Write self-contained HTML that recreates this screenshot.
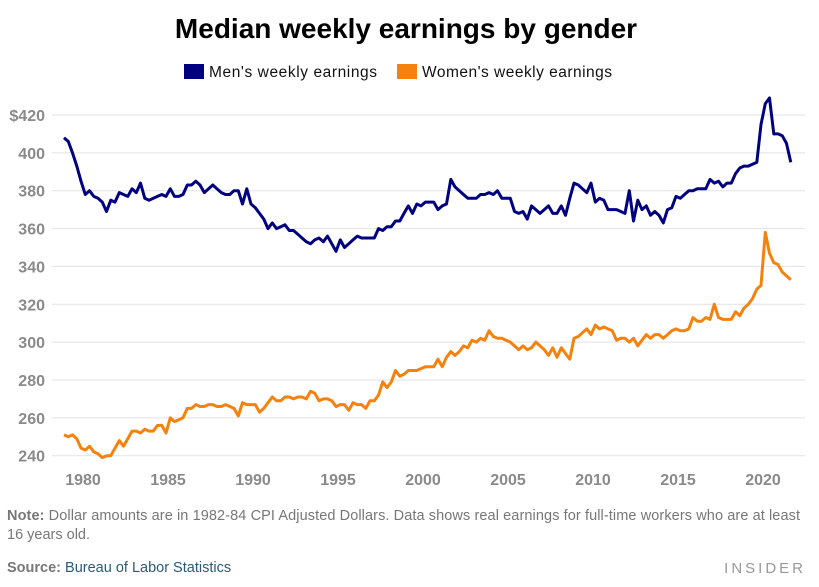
<!DOCTYPE html>
<html><head><meta charset="utf-8">
<style>
body{margin:0;background:#fff;width:819px;height:587px;overflow:hidden;font-family:"Liberation Sans",sans-serif;}
svg{display:block}
</style></head>
<body>
<svg id="chart" width="819" height="587" xmlns="http://www.w3.org/2000/svg">
<text x="406" y="38" text-anchor="middle" font-family="Liberation Sans, sans-serif" font-weight="bold" font-size="28" fill="#000">Median weekly earnings by gender</text>
<g>
<g><rect x="184" y="64" width="20" height="15" fill="#000080"/><text x="209" y="77" font-size="15.5" font-family="Liberation Sans, sans-serif" fill="#111" textLength="168">Men's weekly earnings</text></g>
<g><rect x="397" y="64" width="20" height="15" fill="#f5820f"/><text x="422" y="77" font-size="15.5" font-family="Liberation Sans, sans-serif" fill="#111" textLength="190">Women's weekly earnings</text></g>
</g>
<g id="grid"></g>
<g id="yaxis"></g>
<g id="xaxis"></g>
<g id="series"></g>
<text x="7" y="520" font-size="14.5" font-family="Liberation Sans, sans-serif" fill="#777" textLength="793"><tspan font-weight="bold">Note:</tspan> Dollar amounts are in 1982-84 CPI Adjusted Dollars. Data shows real earnings for full-time workers who are at least</text>
<text x="7" y="539" font-size="14.5" font-family="Liberation Sans, sans-serif" fill="#777">16 years old.</text>
<text x="7" y="572" font-size="14.5" font-family="Liberation Sans, sans-serif" fill="#777"><tspan font-weight="bold">Source:</tspan> <tspan fill="#2a5a7a">Bureau of Labor Statistics</tspan></text>
<text x="806" y="573" text-anchor="end" font-size="15" letter-spacing="3" fill="#999">INSIDER</text>
</svg>
<script>
const yTicks=[240,260,280,300,320,340,360,380,400,420];
const xTicks=[1980,1985,1990,1995,2000,2005,2010,2015,2020];
const startYear=1979;
const men=[408,406,400,393,385,378,380,377,376,374,369,375,374,379,378,377,381,379,384,376,375,376,377,378,377,381,377,377,378,383,383,385,383,379,381,383,381,379,378,378,380,380,373,381,373,371,368,365,360,363,360,361,362,359,359,357,355,353,352,354,355,353,356,352,348,354,350,352,354,356,355,355,355,355,360,359,361,361,364,364,368,372,368,373,372,374,374,374,370,372,373,386,382,380,378,376,376,376,378,378,379,378,380,376,376,376,369,368,369,365,372,370,368,370,372,368,368,372,367,376,384,383,381,379,384,374,376,375,370,370,370,369,368,380,364,375,370,372,367,369,367,363,370,371,377,376,378,380,380,381,381,381,386,384,385,382,384,384,389,392,393,393,394,395,415,426,429,410,410,409,405,395];
const women=[251,250,251,249,244,243,245,242,241,239,240,240,244,248,245,249,253,253,252,254,253,253,256,256,252,260,258,259,260,265,265,267,266,266,267,267,266,266,267,266,265,261,268,267,267,267,263,265,268,271,269,269,271,271,270,271,271,270,274,273,269,270,270,269,266,267,267,264,268,267,267,265,269,269,272,279,276,279,285,282,283,285,285,285,286,287,287,287,291,287,292,295,293,295,298,297,301,300,302,301,306,303,302,302,301,300,298,296,298,296,297,300,298,296,293,297,292,297,294,291,302,303,305,307,304,309,307,308,307,306,301,302,302,300,302,298,301,304,302,304,304,302,304,306,307,306,306,307,313,311,311,313,312,320,313,312,312,312,316,314,318,320,323,328,330,358,347,342,341,337,335,333];
const NS="http://www.w3.org/2000/svg";
function xS(y){return 64+(y-startYear)*17.0;}
function yS(v){return 455.7-(v-240)*(340.7/180);}
const grid=document.getElementById('grid'),ya=document.getElementById('yaxis'),xa=document.getElementById('xaxis'),ser=document.getElementById('series');
yTicks.forEach(t=>{
 const l=document.createElementNS(NS,'line');
 l.setAttribute('x1',52);l.setAttribute('x2',805);l.setAttribute('y1',yS(t));l.setAttribute('y2',yS(t));
 l.setAttribute('stroke','#e2e2e2');l.setAttribute('stroke-width',1);
 
 
 grid.appendChild(l);
 const tx=document.createElementNS(NS,'text');
 tx.setAttribute('x',45);tx.setAttribute('y',yS(t)+6);tx.setAttribute('text-anchor','end');
 tx.setAttribute('font-size','16');tx.setAttribute('font-family','Liberation Sans, sans-serif');tx.setAttribute('fill','#8a8a8a');tx.setAttribute('font-weight','bold');
 tx.textContent=(t===420?'$':'')+t;
 
 
 ya.appendChild(tx);
});
xTicks.forEach(t=>{
 const tx=document.createElementNS(NS,'text');
 tx.setAttribute('x',xS(t)+2);tx.setAttribute('y',485);tx.setAttribute('text-anchor','middle');
 tx.setAttribute('font-size','16');tx.setAttribute('font-family','Liberation Sans, sans-serif');tx.setAttribute('fill','#8a8a8a');tx.setAttribute('font-weight','bold');
 tx.textContent=t;
 
 
 xa.appendChild(tx);
});
function line(arr,color,name){
 const p=document.createElementNS(NS,'polyline');
 p.setAttribute('points',arr.map((v,i)=>xS(startYear+i/4).toFixed(1)+','+yS(v).toFixed(1)).join(' '));
 p.setAttribute('fill','none');p.setAttribute('stroke',color);p.setAttribute('stroke-width',3);p.setAttribute('stroke-linejoin','round');
 
 
 ser.appendChild(p);
}
line(women,'#f5820f','women-line');
line(men,'#000080','men-line');
</script>
</body></html>
